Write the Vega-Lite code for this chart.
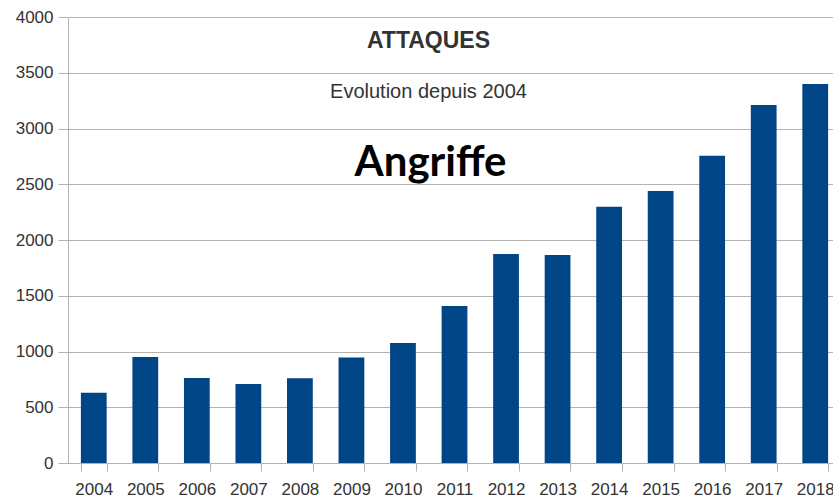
{
  "$schema": "https://vega.github.io/schema/vega-lite/v6.json",
  "width": 773,
  "height": 446,
  "autosize": {"type": "none"},
  "padding": {"left": 68, "top": 17, "right": 0, "bottom": 37},
  "background": "white",
  "config": {"view": {"stroke": null}, "font": "Liberation Sans"},
  "layer": [
    {
      "data": {"values": [
        {"year": "2004", "attacks": 630},
        {"year": "2005", "attacks": 950},
        {"year": "2006", "attacks": 762},
        {"year": "2007", "attacks": 708},
        {"year": "2008", "attacks": 760},
        {"year": "2009", "attacks": 947},
        {"year": "2010", "attacks": 1076},
        {"year": "2011", "attacks": 1408},
        {"year": "2012", "attacks": 1874},
        {"year": "2013", "attacks": 1865},
        {"year": "2014", "attacks": 2298},
        {"year": "2015", "attacks": 2440},
        {"year": "2016", "attacks": 2755},
        {"year": "2017", "attacks": 3211},
        {"year": "2018", "attacks": 3399}
      ]},
      "mark": {"type": "bar", "color": "#004586"},
      "encoding": {
        "x": {
          "field": "year", "type": "ordinal",
          "scale": {"paddingInner": 0.5, "paddingOuter": 0.25},
          "axis": {
            "title": null, "labelAngle": 0, "tickBand": "extent",
            "tickSize": 8, "tickColor": "#b3b3b3", "domainColor": "#b3b3b3",
            "labelFontSize": 17, "labelColor": "#333333", "labelPadding": 10, "grid": false
          }
        },
        "y": {
          "field": "attacks", "type": "quantitative",
          "scale": {"domain": [0, 4000]},
          "axis": {
            "title": null, "format": "d", "values": [0, 500, 1000, 1500, 2000, 2500, 3000, 3500, 4000],
            "grid": true, "gridColor": "#b3b3b3", "tickSize": 10, "tickColor": "#b3b3b3",
            "domainColor": "#b3b3b3", "labelFontSize": 17, "labelColor": "#333333", "labelPadding": 5
          }
        }
      }
    },
    {
      "data": {"values": [{"year": "2011", "v": 3785, "t": "ATTAQUES"}]},
      "mark": {"type": "text", "fontWeight": "bold", "fontSize": 23, "color": "#333333", "dx": -26},
      "encoding": {"x": {"field": "year", "type": "ordinal"}, "y": {"field": "v", "type": "quantitative"}, "text": {"field": "t"}}
    },
    {
      "data": {"values": [{"year": "2011", "v": 3327, "t": "Evolution depuis 2004"}]},
      "mark": {"type": "text", "fontSize": 20, "color": "#333333", "dx": -26},
      "encoding": {"x": {"field": "year", "type": "ordinal"}, "y": {"field": "v", "type": "quantitative"}, "text": {"field": "t"}}
    },
    {
      "data": {"values": [{"year": "2011", "v": 2690, "t": "Angriffe"}]},
      "mark": {"type": "text", "fontSize": 42, "fontWeight": "bold", "font": "Lato", "color": "#000000", "dx": -24},
      "encoding": {"x": {"field": "year", "type": "ordinal"}, "y": {"field": "v", "type": "quantitative"}, "text": {"field": "t"}}
    }
  ]
}
